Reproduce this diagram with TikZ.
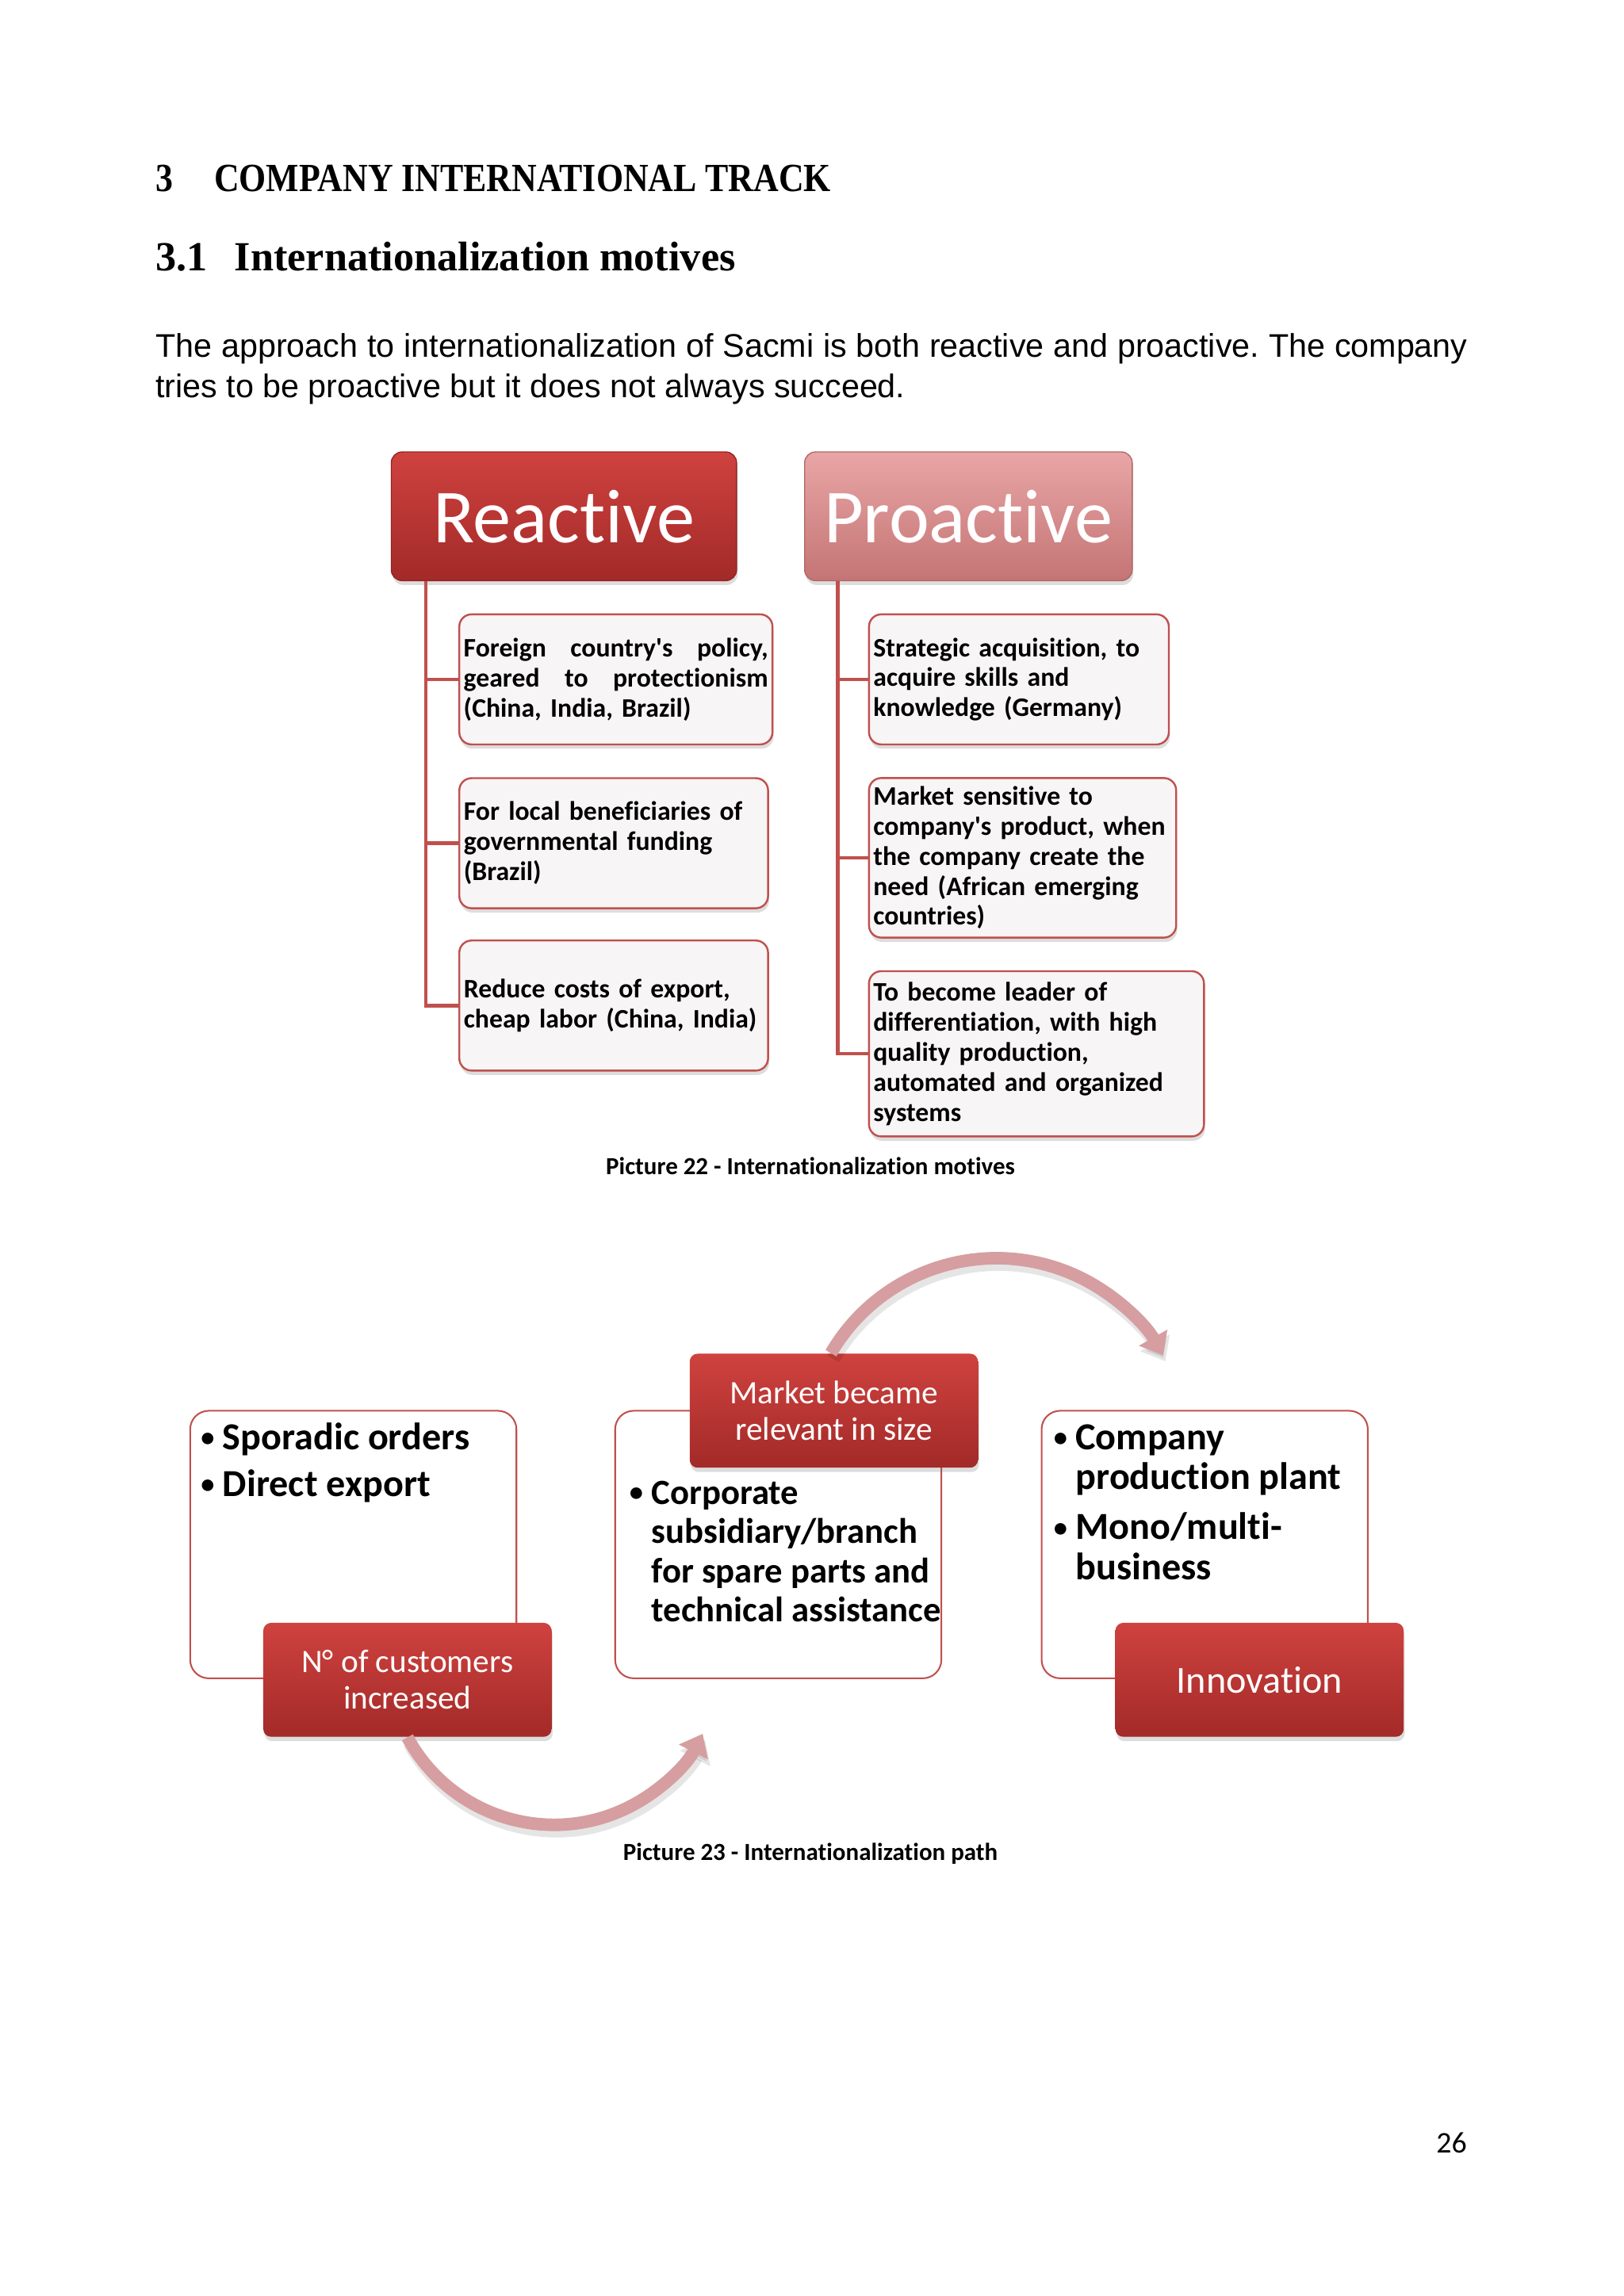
\documentclass[tikz,border=0pt]{standalone}
\usepackage{fontspec}
\setmainfont{Carlito}[Ligatures=NoCommon]
\newfontfamily\plainf{Carlito}[Ligatures=NoCommon]
\newfontfamily\arialf{Liberation Sans}
\newfontfamily\seriff{Liberation Serif}
\usetikzlibrary{arrows.meta,shadows}
\definecolor{accent}{RGB}{192,80,77}
\definecolor{boxfill}{RGB}{247,245,245}
\definecolor{redtop}{RGB}{207,66,63}
\definecolor{redbot}{RGB}{162,42,40}
\definecolor{pinktop}{RGB}{233,166,166}
\definecolor{pinkbot}{RGB}{196,116,116}
\definecolor{arrowc}{RGB}{214,158,160}
\def\uu{0.53631pt}
\newcommand\apos{{\plainf'}}
\newcommand\bulmark{\makebox[8pt][l]{\raisebox{1pt}{\fontsize{10}{10}\selectfont •}}}
\frenchspacing
\begin{document}
\begin{tikzpicture}[x=\uu, y=-\uu,
  softshadow/.style={drop shadow={shadow xshift=0.4pt, shadow yshift=-1.6pt, opacity=0.22, fill=black!60}},
  hdr/.style={rounded corners=4pt, minimum height=47.2pt, inner sep=0pt, text=white,
    font=\fontsize{28}{30}\selectfont, softshadow},
  reactivebox/.style={hdr, top color=redtop, bottom color=redbot, draw=redbot!90!black, line width=0.4pt},
  proactivebox/.style={hdr, top color=pinktop, bottom color=pinkbot, draw=pinkbot!90!black, line width=0.4pt},
  motive/.style={draw=accent, line width=0.7pt, rounded corners=4.5pt, fill=boxfill,
    minimum height=47.7pt, inner xsep=1.61pt, inner ysep=0pt, align=left,
    font=\fontsize{9.8}{11}\bfseries\selectfont, softshadow},
  conn/.style={draw=accent, line width=1.3pt},
  outerbox/.style={draw=accent, line width=0.6pt, fill=white, rounded corners=6.8pt,
    minimum width=119.6pt, minimum height=98.1pt, inner sep=0pt},
  stagebox/.style={rounded corners=2.9pt, top color=redtop, bottom color=redbot,
    minimum width=105.7pt, minimum height=41.8pt, inner sep=0pt, text=white, align=center,
    font=\fontsize{12}{13.4}\selectfont, softshadow},
  bul/.style={anchor=base west, inner sep=0pt, font=\fontsize{14}{16}\bfseries\selectfont},
  bulsmall/.style={bul, font=\fontsize{13}{15}\bfseries\selectfont},
  cyclearrow/.style={draw=arrowc, line width=4.6pt, -{Triangle[width=11.5pt,length=7.5pt]}},
  arrowshadow/.style={draw=black, opacity=0.10, line width=5pt, -{Triangle[width=12pt,length=7.8pt]}},
  caption/.style={anchor=base, inner sep=0pt, font=\fontsize{9}{11}\bfseries\selectfont}
]
\useasboundingbox (0,0) rectangle (1110,1569.8);

% headings
\node[anchor=base west, inner sep=0pt, font=\seriff\bfseries\fontsize{12.75}{14}\selectfont] (h1n) at (106,131) {\scalebox{1}[1.15]{3}};
\node[anchor=base west, inner sep=0pt, font=\seriff\bfseries\fontsize{12.75}{14}\selectfont] (h1) at (146,131) {\scalebox{1}[1.15]{COMPANY INTERNATIONAL TRACK}};
\node[anchor=base west, inner sep=0pt, font=\seriff\bfseries\fontsize{15.2}{17}\selectfont] (h2n) at (106,185) {3.1};
\node[anchor=base west, inner sep=0pt, font=\seriff\bfseries\fontsize{15.2}{17}\selectfont] (h2) at (160,185) {Internationalization motives};

% paragraph
\node[anchor=base west, inner sep=0pt, font=\arialf\fontsize{12}{14}\selectfont] (p1) at (106,244) {\makebox[481pt][s]{The approach to internationalization of Sacmi is both reactive and proactive. The company}};
\node[anchor=base west, inner sep=0pt, font=\arialf\fontsize{12}{14}\selectfont] (p2) at (106,272) {tries to be proactive but it does not always succeed.};

% ===== Picture 22 =====
\node[reactivebox, minimum width=126.6pt] (R) at (385.5,353) {Reactive};
\node[proactivebox, minimum width=120.1pt] (P) at (662,353) {Proactive};

\coordinate (rt) at ([xshift=12.87pt]R.south west);
\coordinate (pt) at ([xshift=12.33pt]P.south west);

\node[motive, minimum width=114.8pt, text width=111.6pt] (L1) at (421,464.5)
  {\makebox[111.6pt][s]{Foreign\hfil country\apos s\hfil policy,}\\\makebox[111.6pt][s]{geared\hfil to\hfil protectionism}\\(China, India, Brazil)};
\node[motive, minimum width=113.2pt, text width=109.9pt] (L2) at (419.5,576.5)
  {For local beneficiaries of\\governmental funding\\(Brazil)};
\node[motive, minimum width=113.2pt, text width=109.9pt] (L3) at (419.5,687.5)
  {Reduce costs of export,\\cheap labor (China, India)};
\node[motive, minimum width=109.9pt, text width=106.7pt] (R1) at (696.5,464.5)
  {Strategic acquisition, to\\acquire skills and\\knowledge (Germany)};
\node[motive, minimum width=112.6pt, minimum height=58.5pt, text width=109.4pt] (R2) at (699,586.5)
  {Market sensitive to\\company\apos s product, when\\the company create the\\need (African emerging\\countries)};
\node[motive, minimum width=122.8pt, minimum height=60.6pt, text width=119.6pt] (R3) at (708.5,720.5)
  {To become leader of\\differentiation, with high\\quality production,\\automated and organized\\systems};

\draw[conn] (rt) |- (L1.west);
\draw[conn] (rt) |- (L2.west);
\draw[conn] (rt) |- (L3.west);
\draw[conn] (pt) |- (R1.west);
\draw[conn] (pt) |- (R2.west);
\draw[conn] (pt) |- (R3.west);

\node[caption] (c22) at (554,803) {Picture 22 - Internationalization motives};

% ===== Picture 23 =====
\node[outerbox] (B1) at (241.5,1056) {};
\node[outerbox] (B2) at (532,1056) {};
\node[outerbox] (B3) at (823.5,1056) {};

\node[bul] (b1a) at (137,991) {\bulmark Sporadic orders};
\node[bul] (b1b) at (137,1023) {\bulmark Direct export};

\node[bulsmall] (b2a) at (430,1028.5) {\bulmark Corporate};
\node[bulsmall] (b2b) at (445,1055.3) {subsidiary/branch};
\node[bulsmall] (b2c) at (445,1082) {for spare parts and};
\node[bulsmall] (b2d) at (445,1108.8) {technical assistance};

\node[bul] (b3a) at (720,991) {\bulmark Company};
\node[bul] (b3b) at (735,1018) {production plant};
\node[bul] (b3c) at (720,1052.5) {\bulmark Mono/multi-};
\node[bul] (b3d) at (735,1080) {business};

\node[stagebox] (S1) at (278.5,1148.5) {N° of customers\\increased};
\node[stagebox] (S2) at (570,964.5) {Market became\\relevant in size};
\node[stagebox, font=\fontsize{14}{16}\selectfont] (S3) at (861,1148.5) {Innovation};

\node[caption] (c23) at (554,1272) {Picture 23 - Internationalization path};

\node[anchor=base east, inner sep=0pt, font=\fontsize{11}{13}\selectfont] (pg) at (1003,1472) {26};

% cycle arrows with soft shadow
\draw[arrowshadow] ([shift={(1.5,4)}]S2.north) ++(-2,0) arc[start angle=-149.7, end angle=-29.5, radius=131];
\draw[cyclearrow] (S2.north) ++(-2,0) arc[start angle=-149.7, end angle=-29.5, radius=131];
\draw[arrowshadow] ([shift={(1.5,4)}]S1.south) arc[start angle=151.6, end angle=27, radius=114];
\draw[cyclearrow] (S1.south) arc[start angle=151.6, end angle=27, radius=114];
\end{tikzpicture}
\end{document}
